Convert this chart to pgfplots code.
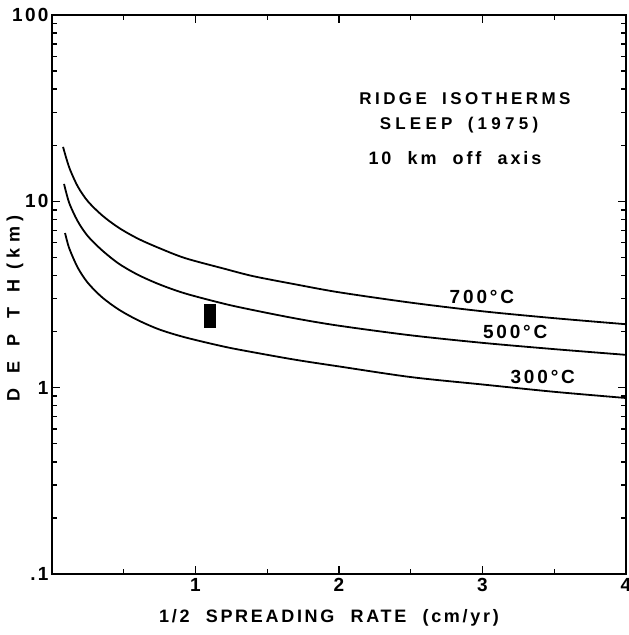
\documentclass[border=0pt]{standalone}
\usepackage{fontspec}
\setmainfont{Liberation Sans}
\newfontfamily\lf{Liberation Sans}[UprightFont=* Bold]
\usepackage{pgfplots}
\pgfplotsset{compat=1.18}
\newcommand\LS[3]{{\lf\fontsize{#1}{#1}\selectfont\addfontfeature{LetterSpace=#2}#3}}
\newcommand\wsp{\hspace{0.9em}}
\newcommand\TL[1]{\LS{19}{12}{#1}}
\begin{document}
\begin{tikzpicture}
\begin{axis}[
  name=ax, scale only axis, width=574pt, height=559pt,
  ymode=log, xmin=0, xmax=4, ymin=0.1, ymax=100,
  xtick={1,2,3,4}, xticklabels={\TL{1},\TL{2},\TL{3},\TL{4}},
  minor xtick={0.5,1.5,2.5,3.5},
  ytick={0.1,1,10,100}, yticklabels={\TL{.1},\TL{1},\TL{10},\TL{100}},
  minor ytick={0.2,0.3,0.4,0.5,0.6,0.7,0.8,0.9,2,3,4,5,6,7,8,9,20,30,40,50,60,70,80,90},
  tick align=inside, major tick length=8pt, minor tick length=5pt,
  axis line style={line width=2pt},
  every tick/.style={line width=1.4pt, black},
  /pgf/number format/assume math mode=true,
  xticklabel style={yshift=-1pt},
  clip=false,
]
\addplot[black, line width=1.8pt, smooth, tension=0.5] coordinates {
 (0.077,19.6) (0.12,15.2) (0.18,12.0) (0.25,10.0) (0.35,8.4) (0.467,7.2) (0.6,6.3)
 (0.75,5.6) (0.93,4.95) (1.2,4.35) (1.4,3.97) (1.7,3.58) (2.0,3.25) (2.5,2.86)
 (3.0,2.57) (3.5,2.36) (4.0,2.19)};
\addplot[black, line width=1.8pt, smooth, tension=0.5] coordinates {
 (0.084,12.4) (0.12,9.8) (0.18,7.8) (0.25,6.5) (0.35,5.45) (0.467,4.62) (0.6,4.03)
 (0.75,3.58) (0.93,3.2) (1.2,2.82) (1.4,2.61) (1.7,2.35) (2.0,2.15) (2.5,1.91)
 (3.0,1.74) (3.5,1.61) (4.0,1.50)};
\addplot[black, line width=1.8pt, smooth, tension=0.5] coordinates {
 (0.091,6.76) (0.12,5.6) (0.18,4.4) (0.25,3.65) (0.35,3.05) (0.467,2.62) (0.6,2.3)
 (0.75,2.05) (0.93,1.86) (1.2,1.66) (1.4,1.55) (1.7,1.41) (2.0,1.30) (2.5,1.14)
 (3.0,1.04) (3.5,0.95) (4.0,0.88)};
\addplot[fill=black, draw=black, line width=0.5pt] coordinates {
 (1.063,2.10) (1.137,2.10) (1.137,2.80) (1.063,2.80) (1.063,2.10)};
\node at (rel axis cs:0.7195,0.8497) {\LS{17}{20}{RIDGE\wsp ISOTHERMS}};
\node at (rel axis cs:0.709,0.803) {\LS{17}{25}{SLEEP\wsp (1975)}};
\node at (rel axis cs:0.702,0.744) {\LS{18}{16}{10\wsp km\wsp off\wsp axis}};
\node at (rel axis cs:0.749,0.495) {\LS{19}{15}{700°C}};
\node at (rel axis cs:0.807,0.433) {\LS{19}{15}{500°C}};
\node at (rel axis cs:0.855,0.352) {\LS{19}{15}{300°C}};
\node at (rel axis cs:0.4826,-0.0787) {\LS{18}{15}{1/2\wsp SPREADING\wsp RATE\wsp (cm/yr)}};
\node[rotate=90] at ([xshift=-37pt]rel axis cs:0,0.475) {\LS{18}{85}{DEPTH}\hspace{10pt}\LS{18}{30}{(km)}};
\end{axis}
\pgfresetboundingbox
\useasboundingbox ([xshift=-52pt,yshift=-61pt]ax.south west) rectangle ([xshift=2pt,yshift=15pt]ax.north east);
\end{tikzpicture}
\end{document}
